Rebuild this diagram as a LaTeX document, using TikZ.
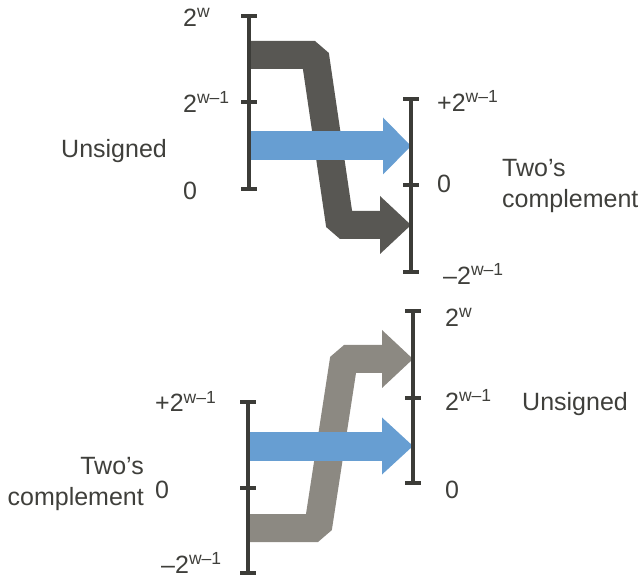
\documentclass[tikz,border=0pt]{standalone}
\usepackage{fontspec}
\setmainfont{Liberation Sans}
\usetikzlibrary{arrows.meta}

\definecolor{txtgray}{HTML}{3F3F3B}
\definecolor{axisgray}{HTML}{3C3C38}
\definecolor{darkband}{HTML}{585753}
\definecolor{lightband}{HTML}{8C8982}
\definecolor{mapblue}{HTML}{679ED2}

% power of two with a raised exponent
\newcommand{\pw}[1]{2\raisebox{9pt}{\fontsize{17.5}{17.5}\selectfont #1}}

\begin{document}
\begin{tikzpicture}[x=1pt, y=-1pt,
  axis/.style={draw=axisgray, line width=3.5pt},
  band/.style={line width=28pt, line join=bevel,
    -{Triangle[length=31pt, width=58pt, line width=0pt]}},
  lbl/.style={font=\fontsize{25}{31}\selectfont, text=txtgray, inner sep=0pt, anchor=base west},
]
  \useasboundingbox (0,0) rectangle (643,577);

  % axes: top is unsigned -> two's complement, bottom the other way
  \coordinate (ua-hi) at (249,16);  \coordinate (ua-mid) at (249,102); \coordinate (ua-lo) at (249,189);
  \coordinate (ta-hi) at (411,99);  \coordinate (ta-mid) at (411,185); \coordinate (ta-lo) at (411,272);
  \coordinate (tb-hi) at (248,402); \coordinate (tb-mid) at (248,488); \coordinate (tb-lo) at (248,573);
  \coordinate (ub-hi) at (413,311); \coordinate (ub-mid) at (413,398); \coordinate (ub-lo) at (413,483);

  % big values wrap around
  \draw[band, darkband] (249,55) -- (315,55) -- (340,225) -- (ta-mid|-0,225);
  \draw[band, lightband] (248,528) -- (318,528) -- (344,359) -- (ub-mid|-0,359);

  % small values keep their meaning
  \draw[band, mapblue, line width=29pt, -{Triangle[length=28pt, width=57pt, line width=0pt]}]
    (249,146) -- (ta-mid|-0,146);
  \draw[band, mapblue, line width=29pt, -{Triangle[length=31pt, width=57pt, line width=0pt]}]
    (248,446) -- (ub-mid|-0,446);

  \foreach \a in {ua,ta,tb,ub} {
    \draw[axis] (\a-hi) -- (\a-lo);
    \foreach \t in {hi,mid,lo}
      \draw[axis] ([xshift=-8pt]\a-\t) -- ([xshift=8pt]\a-\t);
  }

  % labels, top
  \node[lbl] (ua-l1) at (183,27)  {\pw{w}};
  \node[lbl] (ua-l2) at (183,113) {\pw{w–1}};
  \node[lbl] (ua-l3) at (183,200) {0};
  \node[lbl] (ua-name) at (61,158) {Unsigned};
  \node[lbl] (ta-l1) at (437,112) {+\pw{w–1}};
  \node[lbl] (ta-l2) at (437,193) {0};
  \node[lbl] (ta-l3) at (443,285) {–\pw{w–1}};
  \node[lbl, anchor=north west, align=left] (ta-name) at (502,159) {Two’s\\complement};

  % labels, bottom
  \node[lbl] (tb-l1) at (155,412) {+\pw{w–1}};
  \node[lbl] (tb-l2) at (155,498) {0};
  \node[lbl] (tb-l3) at (161,573) {–\pw{w–1}};
  \node[lbl, anchor=north east, align=right] (tb-name) at (144,457) {Two’s\\complement};
  \node[lbl] (ub-l1) at (445,327) {\pw{w}};
  \node[lbl] (ub-l2) at (445,410) {\pw{w–1}};
  \node[lbl] (ub-l3) at (445,498) {0};
  \node[lbl] (ub-name) at (522,410) {Unsigned};
\end{tikzpicture}
\end{document}
